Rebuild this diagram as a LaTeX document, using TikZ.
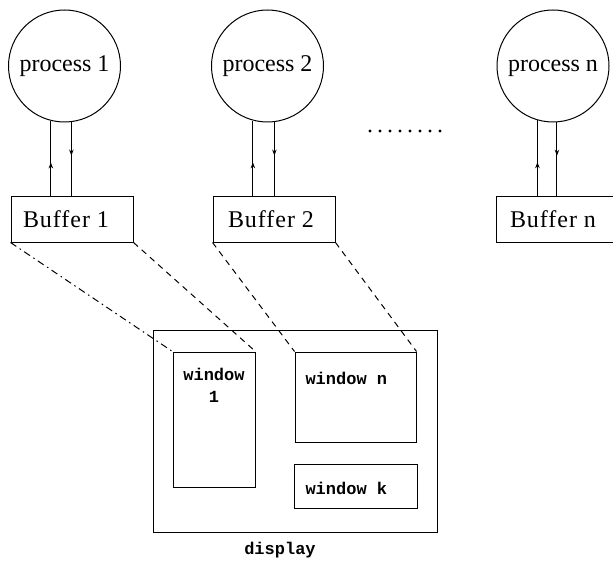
\documentclass[tikz,border=0pt]{standalone}
\usepackage{fontspec}
\setmainfont{Liberation Serif}
\newfontfamily\monof{Liberation Mono}
\usetikzlibrary{arrows.meta,decorations.markings}
\begin{document}
\begin{tikzpicture}[x=1pt,y=-1pt,
  line width=1pt,
  proc/.style={circle,draw,minimum size=112pt,inner sep=0pt,text height=16pt,text depth=5pt,font=\fontsize{24}{26}\selectfont},
  buf/.style={draw,minimum height=45pt,inner sep=0pt},
  buftext/.style={inner sep=0pt,font=\fontsize{24}{26}\selectfont\addfontfeature{LetterSpace=4}},
  win/.style={draw,inner sep=0pt},
  wtext/.style={font=\monof\bfseries\fontsize{17}{22}\selectfont,inner sep=0pt},
  flow/.style={postaction={decorate},decoration={markings,mark=at position 0.45 with {\arrow{Stealth[length=6pt,width=4.5pt]}}}},
  link/.style={dash pattern=on 6pt off 5pt},
  linkdot/.style={dash pattern=on 7pt off 4pt on 1.5pt off 4pt},
]
\useasboundingbox (0,0) rectangle (613,564);
\clip (0,0) rectangle (613,564);
% processes
\node[proc] (p1) at (64.5,66) {process 1};
\node[proc] (p2) at (267.5,66) {process 2};
\node[proc] (pn) at (553,66) {process n};
% buffers
\node[buf,minimum width=122pt] (b1) at (72,219.5) {};
\node[buftext] (b1t) at (66,219.5) {Buffer 1};
\node[buf,minimum width=122pt] (b2) at (274,219.5) {};
\node[buftext] (b2t) at (271,219.5) {Buffer 2};
\node[inner sep=0pt,minimum height=45pt,minimum width=150pt] (bn) at (572,219.5) {};
\draw (bn.north east) -- (bn.north west) -- (bn.south west) -- (bn.south east);
\node[buftext] (bnt) at (553,219.5) {Buffer n};
% arrows
\draw[flow] (p1.-104 |- b1.north) -- (p1.-104);
\draw[flow] (p1.-83) -- (p1.-83 |- b1.north);
\draw[flow] (p2.-105 |- b2.north) -- (p2.-105);
\draw[flow] (p2.-83) -- (p2.-83 |- b2.north);
\draw[flow] (pn.-106.6 |- bn.north) -- (pn.-106.6);
\draw[flow] (pn.-86) -- (pn.-86 |- bn.north);
% dots
\foreach \i in {0,...,7} \fill (370+10*\i,131) circle (1.6);
% display
\node[win,minimum width=284pt,minimum height=202pt] (disp) at (295,431) {};
\node[win,minimum width=82pt,minimum height=135pt] (w1) at (214,419.5) {};
\node[win,minimum width=121pt,minimum height=90pt] (wn) at (355.5,397) {};
\node[win,minimum width=123pt,minimum height=44pt] (wk) at (355.5,486) {};
\node[wtext,align=center,anchor=north] (w1t) at (214,368) {window\\1};
\node[wtext,anchor=west] (wnt) at (305,378) {window n};
\node[wtext,anchor=west] (wkt) at (305,488) {window k};
\node[wtext] (dispt) at (280,550) {display};
% mapping lines
\draw[linkdot] (b1.south west) -- (w1.north west);
\draw[link] (b1.south east) -- (w1.north east);
\draw[link] (b2.south west) -- (wn.north west);
\draw[link] (b2.south east) -- (wn.north east);
\end{tikzpicture}
\end{document}
